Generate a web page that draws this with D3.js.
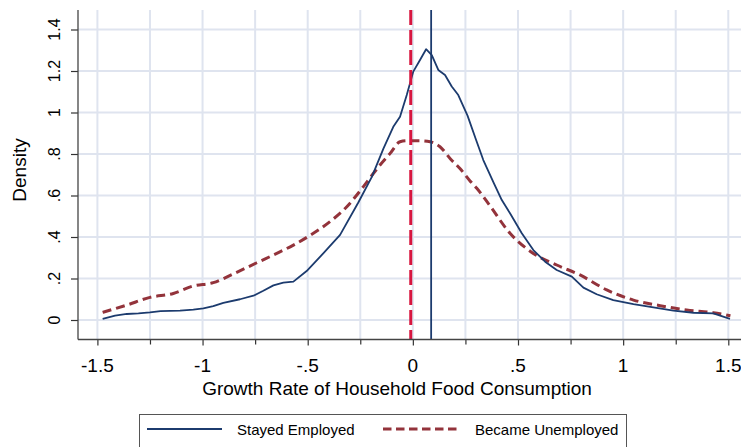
<!DOCTYPE html>
<html>
<head>
<meta charset="utf-8">
<script src="https://cdn.jsdelivr.net/npm/d3@7"></script>
<style>
  body { margin: 0; background: #fff; }
  text { font-family: "Liberation Sans", Arial, sans-serif; fill: #000; }
</style>
</head>
<body>
<div class="chart"></div>
<script>
// density estimates (x = growth rate, y = density)
var employedX = [-1.475, -1.416, -1.36, -1.305, -1.25, -1.2, -1.107, -1.044, -0.996, -0.949,
  -0.901, -0.822, -0.758, -0.711, -0.663, -0.616, -0.568, -0.505, -0.426, -0.346,
  -0.26, -0.195, -0.14, -0.093, -0.061, -0.029, 0.002, 0.034, 0.063, 0.09,
  0.121, 0.153, 0.185, 0.216, 0.26, 0.3, 0.335, 0.385, 0.423, 0.462,
  0.518, 0.573, 0.629, 0.684, 0.756, 0.811, 0.874, 0.953, 1.049, 1.144,
  1.239, 1.334, 1.429, 1.508];
var employedY = [0.005, 0.021, 0.029, 0.032, 0.037, 0.043, 0.045, 0.05, 0.056, 0.067,
  0.083, 0.1, 0.117, 0.141, 0.167, 0.18, 0.185, 0.236, 0.321, 0.41,
  0.565, 0.69, 0.826, 0.931, 0.98, 1.084, 1.197, 1.253, 1.305, 1.277,
  1.205, 1.181, 1.125, 1.084, 0.985, 0.87, 0.771, 0.66, 0.578, 0.514,
  0.418, 0.337, 0.281, 0.241, 0.209, 0.156, 0.124, 0.096, 0.077, 0.061,
  0.045, 0.035, 0.032, 0.005];

var unemployedX = [-1.475, -1.36, -1.25, -1.139, -1.044, -0.949, -0.854, -0.742, -0.647, -0.568,
  -0.473, -0.394, -0.314, -0.235, -0.188, -0.156, -0.108, -0.061, -0.029, 0.034,
  0.082, 0.129, 0.18, 0.224, 0.272, 0.304, 0.36, 0.462, 0.573, 0.684,
  0.795, 0.922, 1.049, 1.176, 1.302, 1.429, 1.51];
var unemployedY = [0.037, 0.072, 0.109, 0.128, 0.164, 0.18, 0.222, 0.276, 0.321, 0.361,
  0.418, 0.474, 0.546, 0.643, 0.706, 0.747, 0.803, 0.859, 0.864, 0.864,
  0.859, 0.835, 0.775, 0.73, 0.67, 0.635, 0.56, 0.418, 0.321, 0.265,
  0.217, 0.145, 0.096, 0.069, 0.048, 0.035, 0.02];

// vertical reference lines (means)
var meanEmployed = 0.087;
var meanUnemployed = -0.01;

var xTicks = [-1.5, -1, -0.5, 0, 0.5, 1, 1.5];
var xTickLabels = ["-1.5", "-1", "-.5", "0", ".5", "1", "1.5"];
var xMinorTicks = [-1.25, -0.75, -0.25, 0.25, 0.75, 1.25];
var yTicks = [0, 0.2, 0.4, 0.6, 0.8, 1, 1.2, 1.4];
var yTickLabels = ["0", ".2", ".4", ".6", ".8", "1", "1.2", "1.4"];

var seriesNames = ["Stayed Employed", "Became Unemployed"];

// colours
var navy = "#1c3b6e";
var maroon = "#93333b";
var crimson = "#d8163f";
var gridColor = "#dfe4ef";

var svgWidth = 741;
var svgHeight = 447;

var svg = d3.select(".chart")
  .append("svg")
  .attr("width", svgWidth)
  .attr("height", svgHeight);

// plot area
var axisLeftX = 78;
var axisBottomY = 339.5;
var plotTop = 10;

var xScale = d3.scaleLinear()
  .domain([-1.5, 1.5])
  .range([97.4, 728.3]);

var yScale = d3.scaleLinear()
  .domain([0, 1.4])
  .range([320, 29.5]);

// gridlines
var grid = svg.append("g");
grid.selectAll(".hgrid")
  .data(yTicks)
  .enter()
  .append("line")
  .attr("x1", axisLeftX)
  .attr("x2", svgWidth)
  .attr("y1", d => yScale(d))
  .attr("y2", d => yScale(d))
  .attr("stroke", gridColor)
  .attr("stroke-width", 2);

grid.selectAll(".vgrid")
  .data(xTicks.concat(xMinorTicks))
  .enter()
  .append("line")
  .attr("x1", d => xScale(d))
  .attr("x2", d => xScale(d))
  .attr("y1", plotTop)
  .attr("y2", axisBottomY)
  .attr("stroke", gridColor)
  .attr("stroke-width", 2);

// density curves
var employedData = employedX.map((x, i) => [x, employedY[i]]);
var unemployedData = unemployedX.map((x, i) => [x, unemployedY[i]]);

var line = d3.line()
  .x(d => xScale(d[0]))
  .y(d => yScale(d[1]));

svg.append("path")
  .datum(unemployedData)
  .attr("d", line.curve(d3.curveMonotoneX))
  .attr("fill", "none")
  .attr("stroke", maroon)
  .attr("stroke-width", 3)
  .attr("stroke-dasharray", "9,5");

svg.append("path")
  .datum(employedData)
  .attr("d", line.curve(d3.curveLinear))
  .attr("fill", "none")
  .attr("stroke", navy)
  .attr("stroke-width", 1.8)
  .attr("stroke-linejoin", "round");

// mean lines
svg.append("line")
  .attr("x1", xScale(meanUnemployed))
  .attr("x2", xScale(meanUnemployed))
  .attr("y1", plotTop)
  .attr("y2", axisBottomY)
  .attr("stroke", crimson)
  .attr("stroke-width", 3)
  .attr("stroke-dasharray", "15,5");

svg.append("line")
  .attr("x1", xScale(meanEmployed))
  .attr("x2", xScale(meanEmployed))
  .attr("y1", plotTop)
  .attr("y2", axisBottomY)
  .attr("stroke", navy)
  .attr("stroke-width", 1.8);

// axes
var yAxis = d3.axisLeft(yScale)
  .tickValues(yTicks)
  .tickSize(7)
  .tickFormat("");
var yAxisGroup = svg.append("g")
  .attr("transform", `translate(${axisLeftX}, 0)`)
  .call(yAxis);
yAxisGroup.select(".domain").remove();

var xAxis = d3.axisBottom(xScale)
  .tickValues(xTicks)
  .tickSize(6)
  .tickFormat("");
var xMinorAxis = d3.axisBottom(xScale)
  .tickValues(xMinorTicks)
  .tickSize(5)
  .tickFormat("");
var xAxisGroup = svg.append("g")
  .attr("transform", `translate(0, ${axisBottomY})`)
  .call(xAxis);
xAxisGroup.select(".domain").remove();
var xMinorGroup = svg.append("g")
  .attr("transform", `translate(0, ${axisBottomY})`)
  .call(xMinorAxis);
xMinorGroup.select(".domain").remove();

svg.selectAll(".tick line")
  .attr("stroke", "#333")
  .attr("stroke-width", 1.2);

// axis lines
svg.append("line")
  .attr("x1", axisLeftX)
  .attr("x2", axisLeftX)
  .attr("y1", plotTop)
  .attr("y2", axisBottomY)
  .attr("stroke", "#444")
  .attr("stroke-width", 1.3);
svg.append("line")
  .attr("x1", axisLeftX)
  .attr("x2", svgWidth)
  .attr("y1", axisBottomY)
  .attr("y2", axisBottomY)
  .attr("stroke", "#444")
  .attr("stroke-width", 1.3);

// tick labels
svg.selectAll(".ylab")
  .data(yTicks)
  .enter()
  .append("text")
  .attr("transform", d => `translate(60, ${yScale(d)}) rotate(-90)`)
  .attr("text-anchor", "middle")
  .style("font-size", "16px")
  .text((d, i) => yTickLabels[i]);

svg.selectAll(".xlab")
  .data(xTicks)
  .enter()
  .append("text")
  .attr("x", d => xScale(d))
  .attr("y", 372)
  .attr("text-anchor", "middle")
  .style("font-size", "19px")
  .text((d, i) => xTickLabels[i]);

// axis titles
svg.append("text")
  .attr("transform", "translate(26, 170) rotate(-90)")
  .attr("text-anchor", "middle")
  .style("font-size", "19px")
  .text("Density");

svg.append("text")
  .attr("x", 397)
  .attr("y", 395)
  .attr("text-anchor", "middle")
  .style("font-size", "19px")
  .text("Growth Rate of Household Food Consumption");

// legend
var legend = svg.append("g");
legend.append("rect")
  .attr("x", 139.5)
  .attr("y", 414.5)
  .attr("width", 487)
  .attr("height", 50)
  .attr("fill", "#fff")
  .attr("stroke", "#555")
  .attr("stroke-width", 1);

legend.append("line")
  .attr("x1", 147).attr("x2", 222)
  .attr("y1", 429).attr("y2", 429)
  .attr("stroke", navy)
  .attr("stroke-width", 1.8);
legend.append("text")
  .attr("x", 237)
  .attr("y", 434.5)
  .style("font-size", "15px")
  .text(seriesNames[0]);

legend.append("line")
  .attr("x1", 383).attr("x2", 457)
  .attr("y1", 429).attr("y2", 429)
  .attr("stroke", maroon)
  .attr("stroke-width", 3)
  .attr("stroke-dasharray", "8.5,4.5");
legend.append("text")
  .attr("x", 475)
  .attr("y", 434.5)
  .style("font-size", "15px")
  .text(seriesNames[1]);
</script>
</body>
</html>
